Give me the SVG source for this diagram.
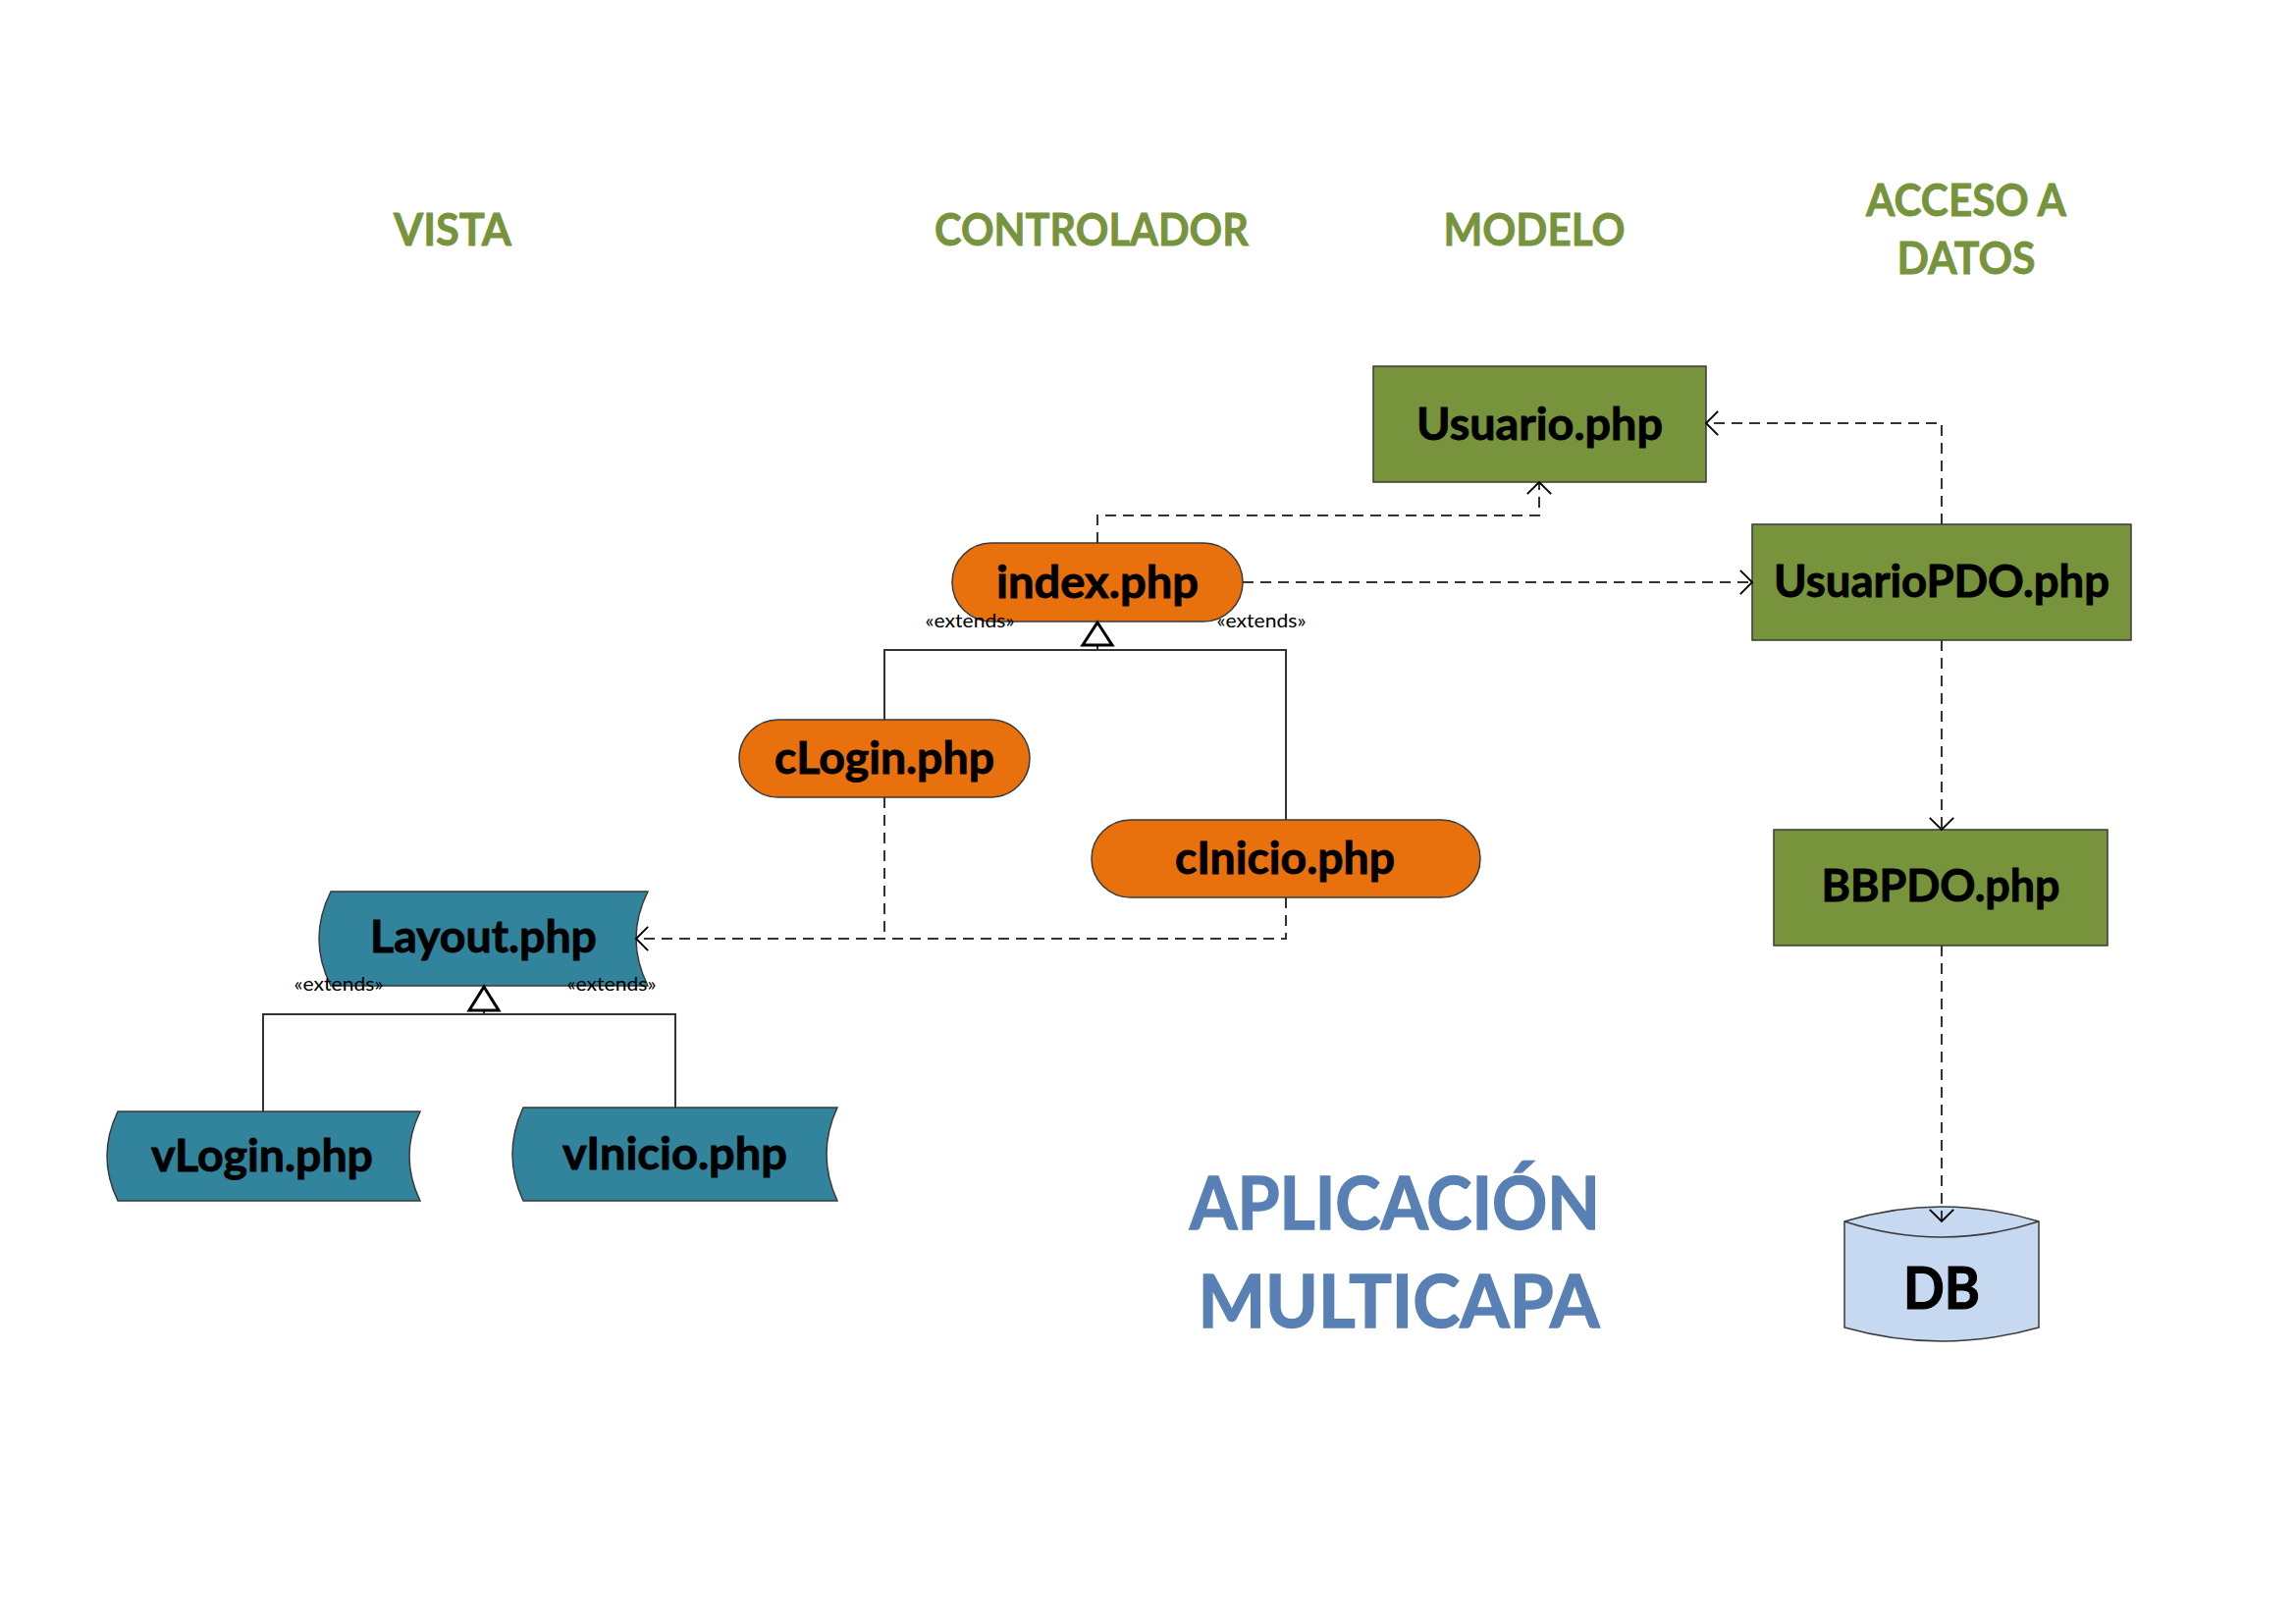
<svg xmlns="http://www.w3.org/2000/svg" width="2339" height="1654" viewBox="0 0 2339 1654">
<defs>
<style>
.hdr{font-family:Lato,"Open Sans","Liberation Sans",sans-serif;font-weight:bold;font-size:45px;fill:#77933C;stroke:#77933C;stroke-width:0.8;text-anchor:middle}
.ttl{font-family:Lato,"Open Sans","Liberation Sans",sans-serif;font-weight:bold;font-size:74px;fill:#5880B4;stroke:#5880B4;stroke-width:1.4;text-anchor:middle}
.lbl{font-family:Lato,"Open Sans","Liberation Sans",sans-serif;font-weight:bold;font-size:46px;fill:#000;stroke:#000;stroke-width:0.9;text-anchor:middle}
.ext{font-family:Lato,"Open Sans","Liberation Sans",sans-serif;font-size:20px;fill:#000;text-anchor:middle}
.green{fill:#77933C;stroke:#3A3A3A;stroke-width:1.5}
.orange{fill:#E8710E;stroke:#3A3A3A;stroke-width:1.5}
.teal{fill:#31849B;stroke:#3A3A3A;stroke-width:1.5}
.db{fill:#C6D9F0;stroke:#3A3A3A;stroke-width:1.5}
.dash{fill:none;stroke:#333;stroke-width:2;stroke-dasharray:11 7}
.solid{fill:none;stroke:#333;stroke-width:2}
.gen{fill:#fff;stroke:#000;stroke-width:3}
</style>
<marker id="open" markerUnits="userSpaceOnUse" markerWidth="30" markerHeight="30" viewBox="-16 -16 20 32" refX="0" refY="0" orient="auto">
<path d="M -13 -13 L 0 0 L -13 13" fill="none" stroke="#000" stroke-width="2"/>
</marker>
</defs>
<rect width="2339" height="1654" fill="#fff"/>

<g id="headers">
<text class="hdr" x="461" y="250" textLength="120" lengthAdjust="spacingAndGlyphs">VISTA</text>
<text class="hdr" x="1112" y="250" textLength="320" lengthAdjust="spacingAndGlyphs">CONTROLADOR</text>
<text class="hdr" x="1563" y="250" textLength="185" lengthAdjust="spacingAndGlyphs">MODELO</text>
<text class="hdr" x="2003" y="220" textLength="204" lengthAdjust="spacingAndGlyphs">ACCESO A</text>
<text class="hdr" x="2003" y="279" textLength="141" lengthAdjust="spacingAndGlyphs">DATOS</text>
</g>

<g id="title">
<text class="ttl" x="1421" y="1252" textLength="418" lengthAdjust="spacingAndGlyphs">APLICACIÓN</text>
<text class="ttl" x="1425" y="1352" textLength="409" lengthAdjust="spacingAndGlyphs">MULTICAPA</text>
</g>

<g id="usuario">
<rect class="green" x="1399" y="373" width="339" height="118"/>
<text class="lbl" x="1568.5" y="448" textLength="251" lengthAdjust="spacingAndGlyphs">Usuario.php</text>
</g>
<g id="usuariopdo">
<rect class="green" x="1785" y="534" width="386" height="118"/>
<text class="lbl" x="1978" y="608" textLength="342" lengthAdjust="spacingAndGlyphs">UsuarioPDO.php</text>
</g>
<g id="bbpdo">
<rect class="green" x="1807" y="845" width="340" height="118"/>
<text class="lbl" x="1977" y="918" textLength="243" lengthAdjust="spacingAndGlyphs">BBPDO.php</text>
</g>
<g id="db">
<path class="db" d="M 1879 1244 Q 1978 1214 2077 1244 L 2077 1352 Q 1978 1380 1879 1352 Z"/>
<path class="db" d="M 1879 1244 Q 1978 1276 2077 1244" fill="none"/>
<text class="lbl" style="font-size:60px;stroke-width:1.2" x="1978" y="1333" textLength="78" lengthAdjust="spacingAndGlyphs">DB</text>
</g>

<g id="index">
<rect class="orange" x="970" y="553" width="296" height="80" rx="40" ry="40"/>
<text class="lbl" x="1118" y="609" textLength="206" lengthAdjust="spacingAndGlyphs">index.php</text>
</g>
<g id="clogin">
<rect class="orange" x="753" y="733" width="296" height="79" rx="40" ry="39.5"/>
<text class="lbl" x="901" y="788" textLength="224" lengthAdjust="spacingAndGlyphs">cLogin.php</text>
</g>
<g id="cinicio">
<rect class="orange" x="1112" y="835" width="396" height="79" rx="40" ry="39.5"/>
<text class="lbl" x="1309" y="890" textLength="224" lengthAdjust="spacingAndGlyphs">cInicio.php</text>
</g>

<g id="layout">
<path class="teal" d="M 337 908 L 660 908 Q 636 956 660 1004 L 337 1004 Q 313 956 337 908 Z"/>
<text class="lbl" x="492.5" y="970" textLength="231" lengthAdjust="spacingAndGlyphs">Layout.php</text>
</g>
<g id="vlogin">
<path class="teal" d="M 120 1132 L 428 1132 Q 406 1177.5 428 1223 L 120 1223 Q 98 1177.5 120 1132 Z"/>
<text class="lbl" x="267" y="1193" textLength="226" lengthAdjust="spacingAndGlyphs">vLogin.php</text>
</g>
<g id="vinicio">
<path class="teal" d="M 533 1128 L 853 1128 Q 831 1175.5 853 1223 L 533 1223 Q 511 1175.5 533 1128 Z"/>
<text class="lbl" x="687.5" y="1191" textLength="229" lengthAdjust="spacingAndGlyphs">vInicio.php</text>
</g>

<g id="connectors">
<path class="dash" d="M 1118 553 L 1118 525 L 1568 525 L 1568 491" marker-end="url(#open)"/>
<path class="dash" d="M 1266 593 L 1785 593" marker-end="url(#open)"/>
<path class="dash" d="M 1978 534 L 1978 431 L 1738 431" marker-end="url(#open)"/>
<path class="dash" d="M 1978 652 L 1978 845" marker-end="url(#open)"/>
<path class="dash" d="M 1978 963 L 1978 1244" marker-end="url(#open)"/>
<path class="dash" d="M 901 812 L 901 956 L 648 956" marker-end="url(#open)"/>
<path class="dash" d="M 1310 914 L 1310 956 L 901 956"/>
<path class="solid" d="M 901 733 L 901 662 L 1310 662 L 1310 835"/>
<path class="solid" d="M 1118 662 L 1118 657"/>
<path class="gen" d="M 1118 634 L 1133 657 L 1103 657 Z"/>
<path class="solid" d="M 268 1132 L 268 1033 L 688 1033 L 688 1128"/>
<path class="solid" d="M 493 1033 L 493 1029"/>
<path class="gen" d="M 493 1005 L 508 1029 L 478 1029 Z"/>
</g>

<g id="connector-labels">
<text class="ext" x="988" y="639" textLength="91" lengthAdjust="spacingAndGlyphs">«extends»</text>
<text class="ext" x="1285" y="639" textLength="91" lengthAdjust="spacingAndGlyphs">«extends»</text>
<text class="ext" x="345" y="1009" textLength="91" lengthAdjust="spacingAndGlyphs">«extends»</text>
<text class="ext" x="623" y="1009" textLength="91" lengthAdjust="spacingAndGlyphs">«extends»</text>
</g>
</svg>
